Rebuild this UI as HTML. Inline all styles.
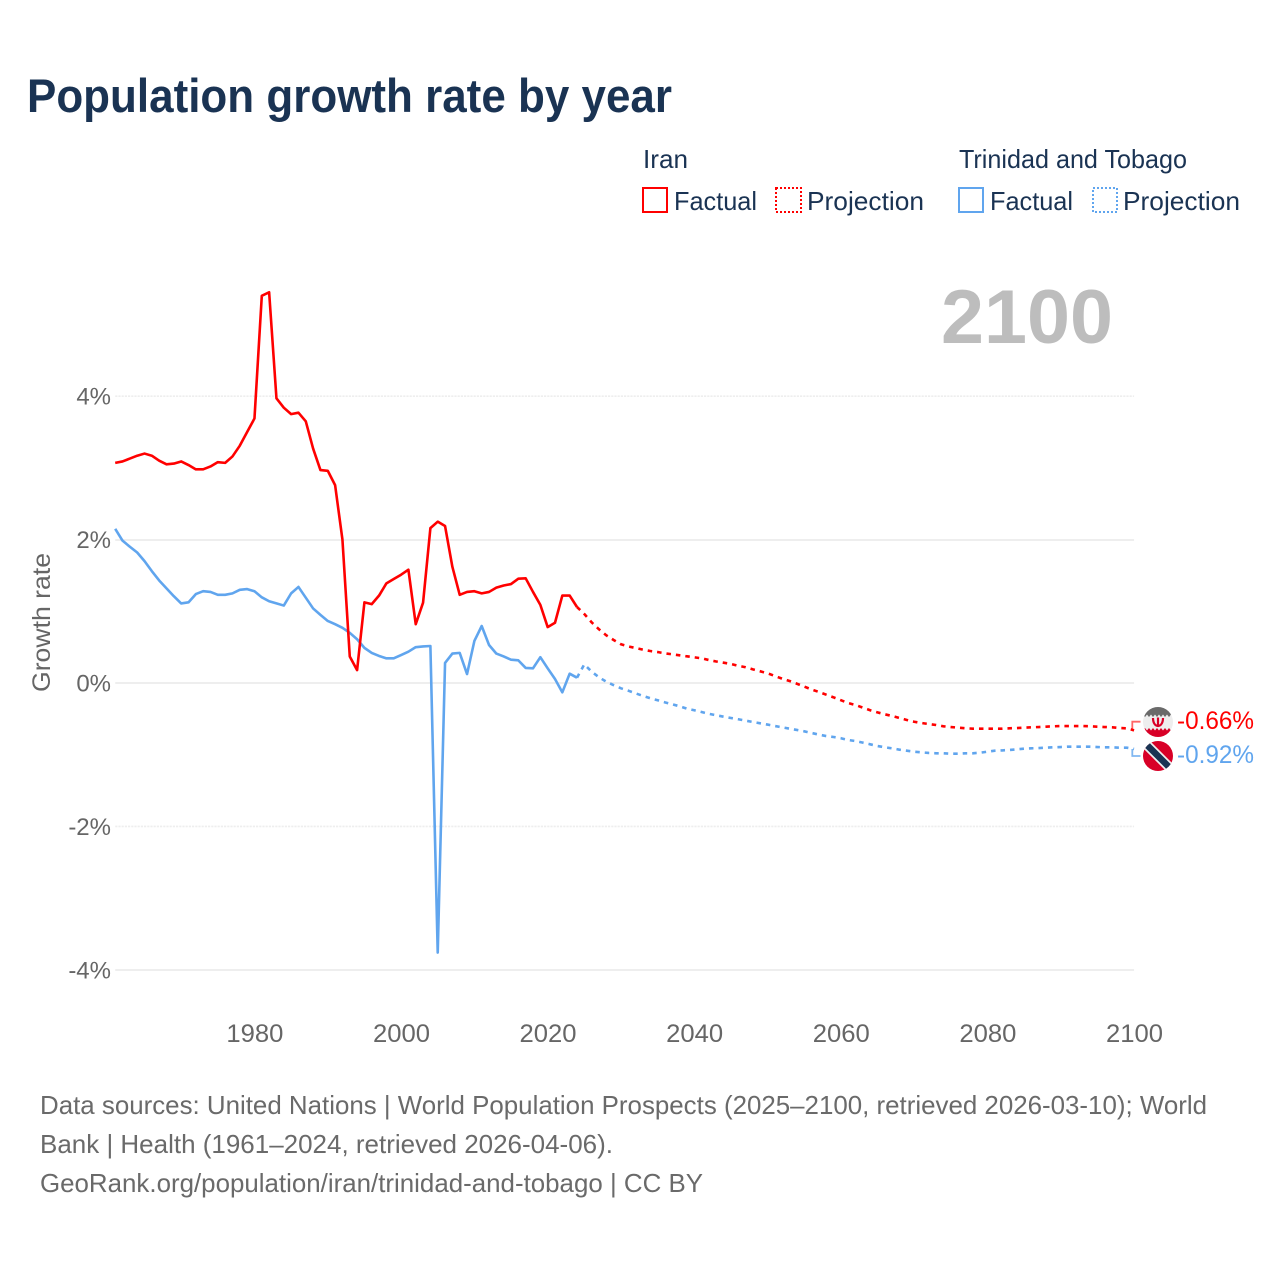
<!DOCTYPE html>
<html lang="en">
<head>
<meta charset="utf-8">
<title>Population growth rate by year</title>
<style>
html,body{margin:0;padding:0;background:#fff;}
svg{display:block;font-family:"Liberation Sans",sans-serif;}
</style>
</head>
<body>
<svg id="chart" xmlns="http://www.w3.org/2000/svg" width="1280" height="1280" viewBox="0 0 1280 1280">
  <rect x="0" y="0" width="1280" height="1280" fill="#fff"/>
  <text x="27" y="112" font-size="47" font-weight="700" fill="#1a3353" textLength="645" lengthAdjust="spacingAndGlyphs">Population growth rate by year</text>

  <g font-size="26" fill="#1a3353">
    <text x="643" y="168" textLength="45" lengthAdjust="spacingAndGlyphs">Iran</text>
    <g>
      <rect x="643" y="188" width="24" height="24" fill="none" stroke="#ff0000" stroke-width="2"/>
      <text x="674" y="210" textLength="83" lengthAdjust="spacingAndGlyphs">Factual</text>
    </g>
    <g>
      <rect x="776" y="188" width="25" height="24" fill="none" stroke="#ff0000" stroke-width="2" stroke-dasharray="2 2"/>
      <text x="807" y="210" textLength="117" lengthAdjust="spacingAndGlyphs">Projection</text>
    </g>
    <text x="959" y="168" textLength="228" lengthAdjust="spacingAndGlyphs">Trinidad and Tobago</text>
    <g>
      <rect x="959" y="188" width="24" height="24" fill="none" stroke="#60a5ee" stroke-width="2"/>
      <text x="990" y="210" textLength="83" lengthAdjust="spacingAndGlyphs">Factual</text>
    </g>
    <g>
      <rect x="1093" y="188" width="24" height="24" fill="none" stroke="#60a5ee" stroke-width="2" stroke-dasharray="2 2"/>
      <text x="1123" y="210" textLength="117" lengthAdjust="spacingAndGlyphs">Projection</text>
    </g>
  </g>

  <text x="941" y="343" font-size="76" font-weight="700" fill="#bdbdbd" textLength="172" lengthAdjust="spacingAndGlyphs">2100</text>
  <text transform="translate(50,692) rotate(-90)" x="0" y="0" font-size="25" fill="#666" textLength="139" lengthAdjust="spacingAndGlyphs">Growth rate</text>

  <g id="grid"></g>
  <g id="yticks"></g>
  <g id="xticks"></g>
  <g id="series"></g>

  <defs>
    <clipPath id="iran-clip"><circle cx="1158" cy="722" r="15"/></clipPath>
    <clipPath id="tt-clip"><circle cx="1158" cy="756" r="15"/></clipPath>
  </defs>
  <g clip-path="url(#iran-clip)">
    <rect x="1143" y="707" width="30" height="30" fill="#eeeeee"/>
    <path d="M1143 707H1173V717L1171 714.5L1169 717L1167 714.5L1165 717L1163 714.5L1161 717L1159 714.5L1157 717L1155 714.5L1153 717L1151 714.5L1149 717L1147 714.5L1145 717L1143 714.5Z" fill="#6a6a6a"/>
    <path d="M1143 737H1173V728L1171 730.5L1169 728L1167 730.5L1165 728L1163 730.5L1161 728L1159 730.5L1157 728L1155 730.5L1153 728L1151 730.5L1149 728L1147 730.5L1145 728L1143 730.5Z" fill="#d80027"/>
    <path d="M1153 718C1153 724 1156 726 1158 726C1160 726 1163 724 1163 718" fill="none" stroke="#d80027" stroke-width="2.2"/>
    <path d="M1158 717.5V726.5" stroke="#d80027" stroke-width="2.2"/>
  </g>
  <g clip-path="url(#tt-clip)">
    <rect x="1143" y="741" width="30" height="30" fill="#d80027"/>
    <path d="M1145 743L1171 769" stroke="#f0f0f0" stroke-width="10"/>
    <path d="M1145 743L1171 769" stroke="#1a3353" stroke-width="6.5"/>
  </g>
  <text x="1177" y="729" font-size="25" fill="#ff0000" textLength="77" lengthAdjust="spacingAndGlyphs">-0.66%</text>
  <text x="1177" y="763" font-size="25" fill="#60a5ee" textLength="77" lengthAdjust="spacingAndGlyphs">-0.92%</text>

  <g font-size="26" fill="#6a6a6a">
    <text x="40" y="1114" textLength="1167" lengthAdjust="spacingAndGlyphs">Data sources: United Nations | World Population Prospects (2025–2100, retrieved 2026-03-10); World</text>
    <text x="40" y="1153" textLength="573" lengthAdjust="spacingAndGlyphs">Bank | Health (1961–2024, retrieved 2026-04-06).</text>
    <text x="40" y="1192" textLength="663" lengthAdjust="spacingAndGlyphs">GeoRank.org/population/iran/trinidad-and-tobago | CC BY</text>
  </g>
</svg>
<script>
const firstYear = 1961;
const projectionStartYear = 2024;
const xTickYears = [1980, 2000, 2020, 2040, 2060, 2080, 2100];
const yTickValues = [4, 2, 0, -2, -4];
const yTickLabels = ['4%', '2%', '0%', '-2%', '-4%'];

const iranFactual = [3.07,3.09,3.13,3.17,3.20,3.17,3.10,3.05,3.06,3.09,3.04,2.98,2.98,3.02,3.08,3.07,3.16,3.31,3.50,3.69,5.40,5.45,3.97,3.84,3.75,3.77,3.65,3.27,2.97,2.96,2.76,2.00,0.37,0.18,1.125,1.10,1.22,1.39,1.45,1.51,1.58,0.82,1.12,2.16,2.25,2.19,1.62,1.23,1.27,1.28,1.25,1.27,1.33,1.36,1.38,1.455,1.46,1.27,1.09,0.78,0.84,1.22,1.22,1.06];
const ttFactual = [2.15,1.985,1.90,1.82,1.70,1.56,1.43,1.32,1.21,1.11,1.125,1.24,1.28,1.27,1.23,1.23,1.25,1.30,1.31,1.28,1.195,1.14,1.11,1.08,1.25,1.34,1.19,1.04,0.95,0.865,0.82,0.77,0.70,0.61,0.49,0.42,0.377,0.344,0.344,0.39,0.437,0.50,0.51,0.516,-3.76,0.28,0.41,0.42,0.125,0.586,0.795,0.53,0.41,0.37,0.325,0.316,0.21,0.205,0.36,0.205,0.056,-0.13,0.13,0.074];
const iranProjection = [1.06,0.962,0.846,0.749,0.665,0.60,0.54,0.51,0.488,0.465,0.446,0.432,0.414,0.40,0.386,0.372,0.358,0.344,0.32,0.30,0.283,0.265,0.24,0.22,0.19,0.163,0.135,0.098,0.06,0.028,-0.01,-0.05,-0.09,-0.125,-0.163,-0.20,-0.24,-0.28,-0.307,-0.344,-0.38,-0.41,-0.437,-0.46,-0.488,-0.516,-0.54,-0.558,-0.572,-0.586,-0.604,-0.614,-0.623,-0.632,-0.637,-0.637,-0.637,-0.637,-0.637,-0.632,-0.628,-0.623,-0.618,-0.614,-0.609,-0.604,-0.60,-0.60,-0.60,-0.60,-0.604,-0.609,-0.614,-0.618,-0.628,-0.632,-0.66];
const ttProjection = [0.074,0.26,0.158,0.08,0.018,-0.03,-0.074,-0.107,-0.144,-0.18,-0.213,-0.24,-0.27,-0.297,-0.325,-0.358,-0.38,-0.405,-0.43,-0.45,-0.47,-0.488,-0.506,-0.525,-0.544,-0.562,-0.58,-0.60,-0.618,-0.637,-0.655,-0.674,-0.697,-0.72,-0.74,-0.753,-0.77,-0.795,-0.81,-0.832,-0.855,-0.879,-0.897,-0.911,-0.93,-0.944,-0.958,-0.967,-0.976,-0.98,-0.98,-0.986,-0.986,-0.98,-0.98,-0.972,-0.958,-0.944,-0.94,-0.934,-0.925,-0.916,-0.911,-0.907,-0.902,-0.897,-0.893,-0.888,-0.888,-0.888,-0.888,-0.893,-0.897,-0.897,-0.902,-0.902,-0.92];

const NS = 'http://www.w3.org/2000/svg';
const xScale = function (year) { return 115.2 + (year - firstYear) * 7.33; };
const yScale = function (value) { return 683 - value * 71.7; };
const PLOT_RIGHT = xScale(2100);

function svgEl(parent, tag, attrs, text) {
  const el = document.createElementNS(NS, tag);
  Object.keys(attrs).forEach(function (k) { el.setAttribute(k, attrs[k]); });
  if (text !== undefined) el.textContent = text;
  parent.appendChild(el);
  return el;
}
function linePath(values, startYear) {
  return values.map(function (v, i) {
    return (i ? 'L' : 'M') + xScale(startYear + i).toFixed(2) + ' ' + yScale(v).toFixed(2);
  }).join('');
}

const gridGroup = document.getElementById('grid');
const yGroup = document.getElementById('yticks');
yTickValues.forEach(function (v, i) {
  const crisp = Math.abs(v) !== 4 && v !== -2 || v === -4;
  const gy = crisp ? Math.round(yScale(v)) : yScale(v);
  const line = svgEl(gridGroup, 'line', {x1: xScale(firstYear), x2: PLOT_RIGHT, y1: gy, y2: gy, stroke: '#eeeeee', 'stroke-width': crisp ? 2 : 1.6, 'stroke-dasharray': crisp ? 'none' : '2.2 1'});
  
  
  const label = svgEl(yGroup, 'text', {x: 111, y: yScale(v) + 8.5, 'text-anchor': 'end', 'font-size': 24, fill: '#666'}, yTickLabels[i]);
  
  
});

const xGroup = document.getElementById('xticks');
xTickYears.forEach(function (year) {
  const label = svgEl(xGroup, 'text', {x: xScale(year) + 0.4, y: 1042, 'text-anchor': 'middle', 'font-size': 25, fill: '#666', textLength: 57, lengthAdjust: 'spacingAndGlyphs'}, String(year));
  
  
});

const seriesGroup = document.getElementById('series');
const common = {fill: 'none', 'stroke-width': 2.6, 'stroke-linejoin': 'round'};

const ttProjLine = svgEl(seriesGroup, 'path', Object.assign({d: linePath(ttProjection, projectionStartYear), stroke: '#60a5ee', 'stroke-dasharray': '4.5 5'}, common));



const iranProjLine = svgEl(seriesGroup, 'path', Object.assign({d: linePath(iranProjection, projectionStartYear), stroke: '#ff0000', 'stroke-dasharray': '4.5 5'}, common));



const ttFactLine = svgEl(seriesGroup, 'path', Object.assign({d: linePath(ttFactual, firstYear), stroke: '#60a5ee'}, common));



const iranFactLine = svgEl(seriesGroup, 'path', Object.assign({d: linePath(iranFactual, firstYear), stroke: '#ff0000'}, common));



const iranLast = iranProjection[iranProjection.length - 1];
const ttLast = ttProjection[ttProjection.length - 1];
const iranConnector = svgEl(seriesGroup, 'path', {d: 'M1132.3 ' + yScale(iranLast) + 'V721.7H1140.5', fill: 'none', stroke: '#ff0000', 'stroke-width': 1.8, opacity: 0.6});


const ttConnector = svgEl(seriesGroup, 'path', {d: 'M1132.3 ' + yScale(ttLast) + 'V756H1140.5', fill: 'none', stroke: '#60a5ee', 'stroke-width': 1.8, opacity: 0.8});


</script>
</body>
</html>
